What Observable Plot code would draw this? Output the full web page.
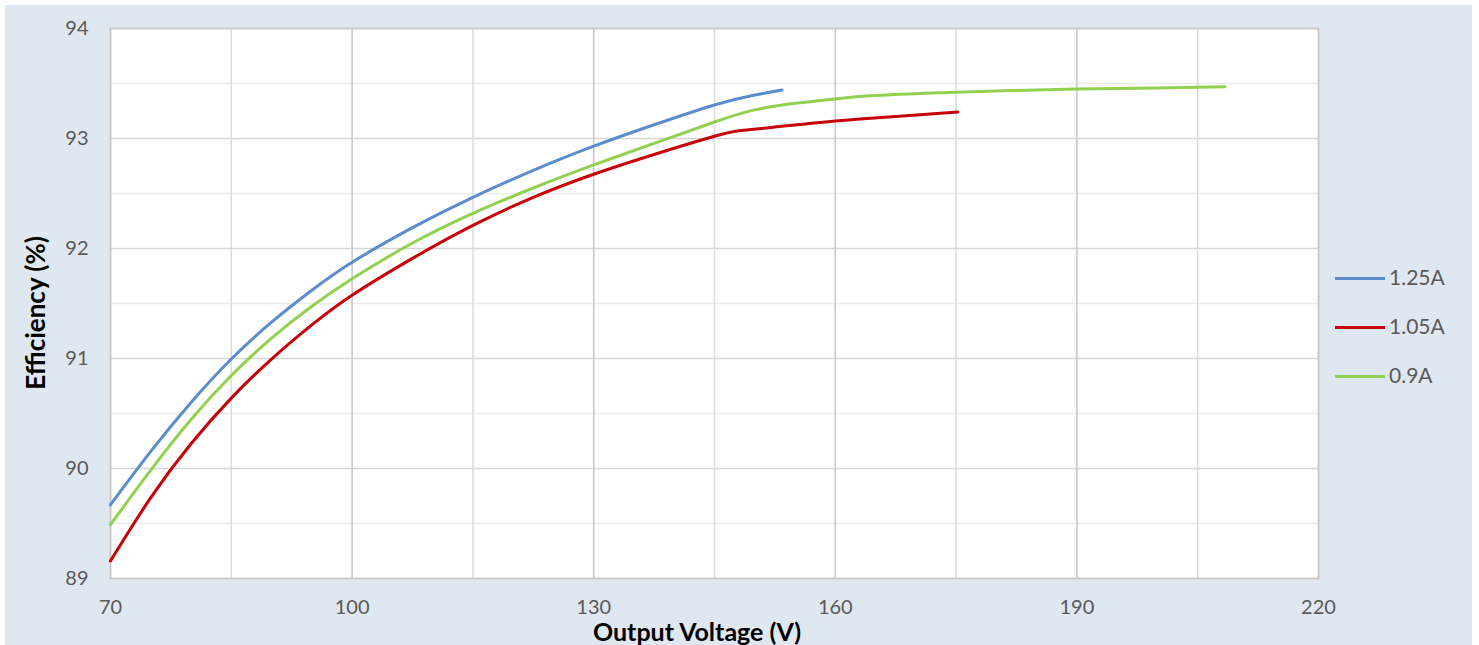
<!DOCTYPE html>
<html><head><meta charset="utf-8">
<script src="https://cdn.jsdelivr.net/npm/d3@7"></script>
<script src="https://cdn.jsdelivr.net/npm/@observablehq/plot@0.6"></script>
<style>
body{margin:0;background:#fff;font-family:Lato,"Open Sans",sans-serif;}
#panel{position:absolute;left:5px;top:5px;width:1467px;height:640px;background:#dfe7f1;overflow:hidden;}
#chart{position:absolute;left:0;top:0;}
.title{position:absolute;font-weight:bold;color:#000;white-space:nowrap;}
#legend{position:absolute;left:1330px;top:259px;}
.lg{position:absolute;white-space:nowrap;font-size:21px;color:#595959;}
.lg span.sw{position:absolute;left:0;width:50px;height:3px;}
</style></head><body>
<div id="panel"><div id="chart"></div>
<div class="title" id="xt" style="font-size:25px;line-height:28px;left:0;width:1384px;text-align:center;top:612px;">Output Voltage (V)</div>
<div class="title" id="yt" style="font-size:26px;left:30px;top:308px;transform:translate(-50%,-50%) rotate(-90deg);">Efficiency (%)</div>
<div id="legend"></div>
</div>
<script>
const series = ["1.25A", "1.05A", "0.9A"];
const colors = ["#5b8ccc", "#c80008", "#92d050"];

const v125 = [70, 75, 80, 85, 90, 95, 100, 107.5, 115, 122.5, 130, 137.5, 145, 150, 153.4];
const e125 = [89.67, 90.155, 90.60, 90.995, 91.33, 91.62, 91.875, 92.19, 92.465, 92.71, 92.93, 93.125, 93.305, 93.395, 93.44];

const v105 = [70, 75, 80, 85, 90, 95, 100, 107.5, 115, 122.5, 130, 137.5, 145, 148, 152, 160, 167.5, 175.2];
const e105 = [89.16, 89.735, 90.225, 90.64, 90.995, 91.305, 91.575, 91.91, 92.21, 92.465, 92.675, 92.855, 93.02, 93.07, 93.10, 93.16, 93.20, 93.24];

const v09 = [70, 75, 80, 85, 90, 95, 100, 107.5, 115, 122.5, 130, 137.5, 145, 150, 155, 160, 165, 175, 190, 200, 208.4];
const e09 = [89.49, 89.985, 90.445, 90.845, 91.185, 91.475, 91.725, 92.05, 92.32, 92.55, 92.76, 92.955, 93.15, 93.26, 93.32, 93.36, 93.39, 93.42, 93.45, 93.46, 93.47];

const xTicks = [70, 100, 130, 160, 190, 220];
const xMinor = [85, 115, 145, 175, 205];
const yTicks = [89, 90, 91, 92, 93, 94];
const yMinor = [89.5, 90.5, 91.5, 92.5, 93.5];

const rows = [];
[[v125, e125, series[0]], [v105, e105, series[1]], [v09, e09, series[2]]].forEach(([vs, es, s]) => {
  vs.forEach((v, i) => rows.push({v, e: es[i], s}));
});

const chart = Plot.plot({
  width: 1467, height: 640,
  marginLeft: 105, marginTop: 23, marginRight: 154, marginBottom: 67,
  style: {background: "transparent", fontFamily: "Lato, 'Open Sans', sans-serif", fontSize: "20px", color: "#595959"},
  x: {domain: [70, 220]},
  y: {domain: [89, 94]},
  color: {domain: series, range: colors},
  marks: [
    Plot.frame({fill: "white"}),
    Plot.gridY(yMinor, {stroke: "#ececec", strokeOpacity: 1, strokeWidth: 1.5}),
    Plot.gridX(xMinor, {stroke: "#dcdcdc", strokeOpacity: 1, strokeWidth: 1.5}),
    Plot.gridY(yTicks, {stroke: "#d6d6d6", strokeOpacity: 1, strokeWidth: 1.5}),
    Plot.gridX(xTicks, {stroke: "#c6c6c6", strokeOpacity: 1, strokeWidth: 1.5}),
    Plot.frame({stroke: "#c6c6c6", strokeWidth: 1.5}),
    Plot.line(rows, {x: "v", y: "e", z: "s", stroke: "s", strokeWidth: 3, curve: "natural"}),
    Plot.axisX(xTicks, {tickSize: 0, tickPadding: 21, label: null, fill: "#595959", tickFormat: d => String(d)}),
    Plot.axisY(yTicks, {tickSize: 0, tickPadding: 22, label: null, fill: "#595959", tickFormat: d => String(d)})
  ]
});
document.getElementById("chart").appendChild(chart);

const lg = document.getElementById("legend");
series.forEach((s, i) => {
  const d = document.createElement("div");
  d.className = "lg";
  d.style.top = (i * 49) + "px";
  d.innerHTML = `<span class="sw" style="top:13px;background:${colors[i]}"></span><span style="position:absolute;left:54px;top:0">${s}</span>`;
  lg.appendChild(d);
});
</script>
</body></html>
